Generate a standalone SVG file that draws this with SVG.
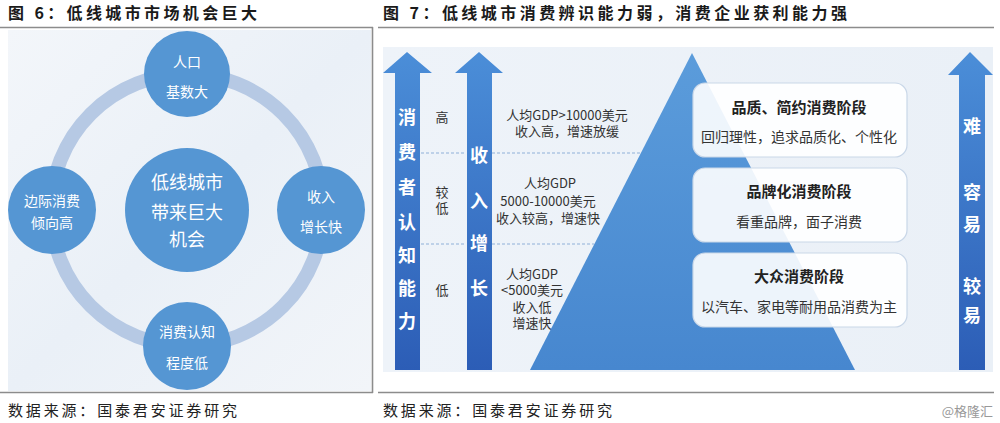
<svg xmlns="http://www.w3.org/2000/svg" width="1000" height="423" viewBox="0 0 1000 423">
<defs>
<style>
.title{font-family:"Noto Sans CJK SC","Noto Sans",sans-serif;font-size:16px;font-weight:bold;fill:#1a1a1a}
.src{font-family:"Noto Sans CJK SC","Noto Sans",sans-serif;font-size:15px;fill:#222}
.rule{stroke:#8c8c8c;stroke-width:1.6;fill:none}
.node{fill:#5596d3}
.nt{font-family:"Noto Sans CJK SC","Noto Sans",sans-serif;font-size:14px;fill:#fff;text-anchor:middle}
.ct{font-family:"Noto Sans CJK SC","Noto Sans",sans-serif;font-size:18px;fill:#fff;text-anchor:middle}
.vt{font-family:"Noto Sans CJK SC","Noto Sans",sans-serif;font-size:18px;font-weight:bold;fill:#fff;text-anchor:middle}
.lb{font-family:"Noto Sans CJK SC","Noto Sans",sans-serif;font-size:13px;fill:#333;text-anchor:middle}
.gt{font-family:"Noto Sans CJK SC","Noto Sans",sans-serif;font-size:13px;fill:#333;text-anchor:middle}
.box{fill:#fff;fill-opacity:0.9;stroke:#c9d7e8;stroke-width:1.2}
.bh{font-family:"Noto Sans CJK SC","Noto Sans",sans-serif;font-size:15px;font-weight:bold;fill:#222;text-anchor:middle}
.bs{font-family:"Noto Sans CJK SC","Noto Sans",sans-serif;font-size:14px;fill:#333;text-anchor:middle}
.dash{stroke:#8fb0d8;stroke-width:1;stroke-dasharray:3 2;fill:none}
</style>
<linearGradient id="bgL" x1="0" y1="0" x2="1" y2="1">
<stop offset="0" stop-color="#f3f6fa"/>
<stop offset="0.5" stop-color="#eaf0f7"/>
<stop offset="1" stop-color="#f2f5f9"/>
</linearGradient>
<linearGradient id="bgR" x1="0" y1="0" x2="1" y2="0">
<stop offset="0" stop-color="#eef3f9"/>
<stop offset="1" stop-color="#eaf0f7"/>
</linearGradient>
<linearGradient id="arr" x1="0" y1="0" x2="0" y2="1">
<stop offset="0" stop-color="#4b8ed8"/>
<stop offset="1" stop-color="#2c5db6"/>
</linearGradient>
<linearGradient id="tri" x1="0" y1="0" x2="0" y2="1">
<stop offset="0" stop-color="#5b9cdb"/>
<stop offset="1" stop-color="#4787cf"/>
</linearGradient>
</defs>

<!-- left figure -->
<text class="title" x="8" y="19" textLength="249" lengthAdjust="spacing">图 6：低线城市市场机会巨大</text>
<line class="rule" x1="0" y1="27.5" x2="373" y2="27.5"/>
<line class="rule" x1="372.5" y1="27" x2="372.5" y2="393"/>
<line class="rule" x1="0" y1="392.5" x2="373" y2="392.5"/>
<rect x="8" y="30" width="363" height="361" fill="url(#bgL)"/>

<g id="connectors">
<circle cx="187" cy="210" r="136" fill="none" stroke="#b6c9e4" stroke-width="14"/>
</g>

<g id="node-center">
<circle class="node" cx="187" cy="210" r="62"/>
<text class="ct" x="187" y="189">低线城市</text>
<text class="ct" x="187" y="219">带来巨大</text>
<text class="ct" x="187" y="246">机会</text>
</g>
<g id="node-top">
<circle class="node" cx="187" cy="74" r="43"/>
<text class="nt" x="187" y="67">人口</text>
<text class="nt" x="187" y="97">基数大</text>
</g>
<g id="node-left">
<circle class="node" cx="52" cy="210" r="44"/>
<text class="nt" x="52" y="206">边际消费</text>
<text class="nt" x="52" y="228">倾向高</text>
</g>
<g id="node-right">
<circle class="node" cx="321" cy="210" r="44"/>
<text class="nt" x="321" y="202">收入</text>
<text class="nt" x="321" y="232">增长快</text>
</g>
<g id="node-bottom">
<circle class="node" cx="187" cy="346" r="44"/>
<text class="nt" x="187" y="337">消费认知</text>
<text class="nt" x="187" y="368">程度低</text>
</g>

<text class="src" x="8" y="416" textLength="229" lengthAdjust="spacing">数据来源：国泰君安证券研究</text>

<!-- right figure -->
<text class="title" x="383" y="19" textLength="464" lengthAdjust="spacing">图 7：低线城市消费辨识能力弱，消费企业获利能力强</text>
<line class="rule" x1="378" y1="27.5" x2="994" y2="27.5"/>
<line class="rule" x1="378" y1="392.5" x2="994" y2="392.5"/>
<rect x="383" y="47" width="610" height="325" fill="url(#bgR)"/>

<g id="pyramid">
<polygon points="692,53 855,370 530,370" fill="url(#tri)"/>
</g>

<g id="dividers">
<line class="dash" x1="421" y1="153" x2="466" y2="153"/>
<line class="dash" x1="492" y1="153" x2="641" y2="153"/>
<line class="dash" x1="421" y1="244" x2="466" y2="244"/>
<line class="dash" x1="492" y1="244" x2="594" y2="244"/>
</g>

<g id="arrow-cognition">
<polygon points="407,52 432,73 420,73 420,370 395,370 395,73 383,73" fill="url(#arr)"/>
<text class="vt" x="407" y="124">消</text>
<text class="vt" x="407" y="159">费</text>
<text class="vt" x="407" y="194">者</text>
<text class="vt" x="407" y="229">认</text>
<text class="vt" x="407" y="262">知</text>
<text class="vt" x="407" y="295">能</text>
<text class="vt" x="407" y="328">力</text>
</g>

<g id="levels">
<text class="lb" x="442" y="122">高</text>
<text class="lb" x="442" y="197">较</text>
<text class="lb" x="442" y="213">低</text>
<text class="lb" x="442" y="295">低</text>
</g>

<g id="arrow-income">
<polygon points="479,52 503,73 492,73 492,370 467,370 467,73 455,73" fill="url(#arr)"/>
<text class="vt" x="479" y="162">收</text>
<text class="vt" x="479" y="208">入</text>
<text class="vt" x="479" y="250">增</text>
<text class="vt" x="479" y="295">长</text>
</g>

<g id="gdp-text">
<text class="gt" x="567" y="120">人均GDP&gt;10000美元</text>
<text class="gt" x="567" y="136">收入高，增速放缓</text>
<text class="gt" x="550" y="188">人均GDP</text>
<text class="gt" x="548" y="206">5000-10000美元</text>
<text class="gt" x="548" y="223">收入较高，增速快</text>
<text class="gt" x="532" y="279">人均GDP</text>
<text class="gt" x="532" y="295">&lt;5000美元</text>
<text class="gt" x="532" y="312">收入低</text>
<text class="gt" x="532" y="328">增速快</text>
</g>

<g id="stage-quality">
<rect class="box" x="693" y="83" width="214" height="74" rx="12"/>
<text class="bh" x="799" y="113">品质、简约消费阶段</text>
<text class="bs" x="799" y="142">回归理性，追求品质化、个性化</text>
</g>
<g id="stage-brand">
<rect class="box" x="693" y="168" width="214" height="74" rx="12"/>
<text class="bh" x="799" y="197">品牌化消费阶段</text>
<text class="bs" x="799" y="227">看重品牌，面子消费</text>
</g>
<g id="stage-mass">
<rect class="box" x="693" y="253" width="214" height="74" rx="12"/>
<text class="bh" x="799" y="282">大众消费阶段</text>
<text class="bs" x="799" y="312">以汽车、家电等耐用品消费为主</text>
</g>

<g id="arrow-difficulty">
<polygon points="970,52 993,75 985,75 985,370 959,370 959,75 948,75" fill="url(#arr)"/>
<text class="vt" x="972" y="133">难</text>
<text class="vt" x="972" y="199">容</text>
<text class="vt" x="972" y="231">易</text>
<text class="vt" x="972" y="293">较</text>
<text class="vt" x="972" y="322">易</text>
</g>

<text class="src" x="383" y="416" textLength="229" lengthAdjust="spacing">数据来源：国泰君安证券研究</text>
<text x="993" y="416" text-anchor="end" font-family="Noto Sans CJK SC, Noto Sans, sans-serif" font-size="13" fill="#999">@格隆汇</text>
</svg>
